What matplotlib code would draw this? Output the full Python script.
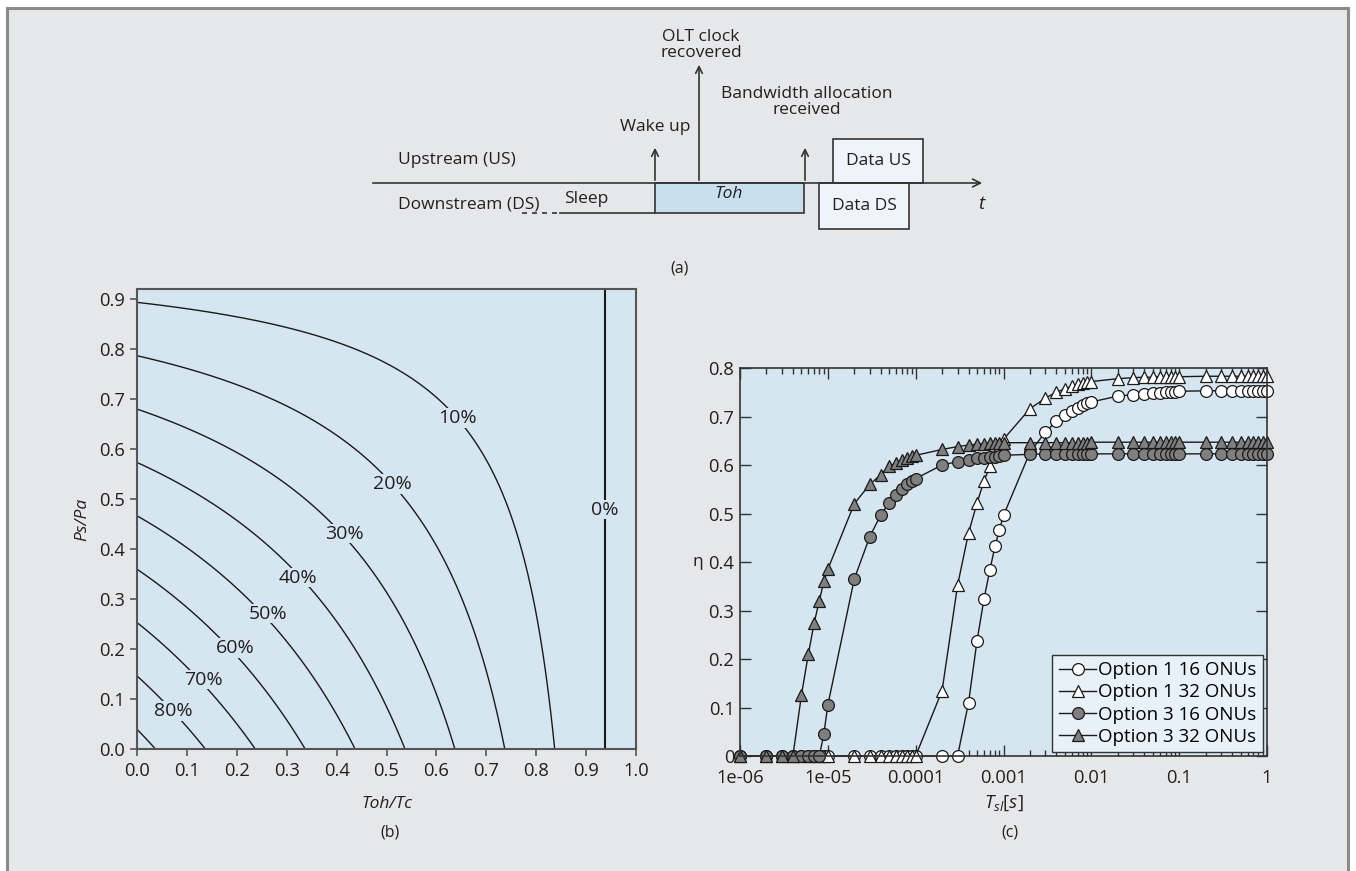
import numpy as np
import matplotlib
matplotlib.use("Agg")
import matplotlib.pyplot as plt
from matplotlib.patches import Rectangle
from matplotlib.ticker import FixedLocator, FixedFormatter, LogLocator, NullFormatter

plt.rcParams['font.family'] = ['Open Sans', 'DejaVu Sans']
plt.rcParams['mathtext.fontset'] = 'custom'
plt.rcParams['mathtext.it'] = 'Open Sans:italic'
plt.rcParams['mathtext.rm'] = 'Open Sans'

TXT = '#231f20'
BG = '#e6e7e8'
AXBG = '#d6e6f0'

# ---------------- data: panel (b) ----------------
saving_levels = [0, 10, 20, 30, 40, 50, 60, 70, 80, 90]
toh_limit = 0.937          # Toh/Tc where saving reaches 0 %
label_text = ['10%', '20%', '30%', '40%', '50%', '60%', '70%', '80%', '0%']
label_x = [0.642, 0.512, 0.415, 0.323, 0.262, 0.197, 0.133, 0.072, 0.938]
label_y = [0.662, 0.530, 0.431, 0.343, 0.271, 0.202, 0.139, 0.076, 0.479]
b_xticks = [0.0, 0.1, 0.2, 0.3, 0.4, 0.5, 0.6, 0.7, 0.8, 0.9, 1.0]
b_yticks = [0.0, 0.1, 0.2, 0.3, 0.4, 0.5, 0.6, 0.7, 0.8, 0.9]

# ---------------- data: panel (c) ----------------
T_sl = [1e-6, 2e-6, 3e-6, 4e-6, 5e-6, 6e-6, 7e-6, 8e-6, 9e-6,
        1e-5, 2e-5, 3e-5, 4e-5, 5e-5, 6e-5, 7e-5, 8e-5, 9e-5,
        1e-4, 2e-4, 3e-4, 4e-4, 5e-4, 6e-4, 7e-4, 8e-4, 9e-4,
        1e-3, 2e-3, 3e-3, 4e-3, 5e-3, 6e-3, 7e-3, 8e-3, 9e-3,
        1e-2, 2e-2, 3e-2, 4e-2, 5e-2, 6e-2, 7e-2, 8e-2, 9e-2,
        1e-1, 2e-1, 3e-1, 4e-1, 5e-1, 6e-1, 7e-1, 8e-1, 9e-1,
        1.0]
opt1_16 = [0, 0, 0, 0, 0, 0, 0, 0, 0,
           0, 0, 0, 0, 0, 0, 0, 0, 0,
           0, 0, 0, 0.110, 0.238, 0.324, 0.384, 0.432, 0.467,
           0.496, 0.626, 0.668, 0.690, 0.703, 0.711, 0.718, 0.723, 0.727,
           0.730, 0.742, 0.745, 0.747, 0.748, 0.749, 0.750, 0.750, 0.751,
           0.752, 0.753, 0.753, 0.753, 0.753, 0.753, 0.753, 0.753, 0.753,
           0.753]
opt1_32 = [0, 0, 0, 0, 0, 0, 0, 0, 0,
           0, 0, 0, 0, 0, 0, 0, 0, 0,
           0, 0.135, 0.352, 0.460, 0.522, 0.567, 0.598, 0.620, 0.637,
           0.653, 0.716, 0.738, 0.750, 0.757, 0.762, 0.766, 0.769, 0.771,
           0.772, 0.778, 0.780, 0.781, 0.781, 0.782, 0.782, 0.782, 0.782,
           0.782, 0.783, 0.783, 0.783, 0.783, 0.783, 0.783, 0.783, 0.783,
           0.783]
opt3_16 = [0, 0, 0, 0, 0, 0, 0, 0, 0.045,
           0.105, 0.365, 0.452, 0.497, 0.522, 0.538, 0.550, 0.560, 0.567,
           0.572, 0.600, 0.607, 0.611, 0.614, 0.615, 0.616, 0.617, 0.618,
           0.620, 0.622, 0.623, 0.623, 0.623, 0.623, 0.623, 0.623, 0.623,
           0.623, 0.623, 0.623, 0.623, 0.623, 0.623, 0.623, 0.623, 0.623,
           0.623, 0.623, 0.623, 0.623, 0.623, 0.623, 0.623, 0.623, 0.623,
           0.623]
opt3_32 = [0, 0, 0, 0, 0.125, 0.210, 0.275, 0.320, 0.360,
           0.385, 0.520, 0.560, 0.580, 0.597, 0.605, 0.611, 0.615, 0.618,
           0.620, 0.632, 0.638, 0.641, 0.643, 0.644, 0.645, 0.645, 0.646,
           0.646, 0.646, 0.646, 0.646, 0.646, 0.646, 0.646, 0.646, 0.646,
           0.647, 0.647, 0.647, 0.647, 0.647, 0.647, 0.647, 0.647, 0.647,
           0.647, 0.647, 0.647, 0.647, 0.647, 0.647, 0.647, 0.647, 0.647,
           0.647]
series_names = ['Option 1 16 ONUs', 'Option 1 32 ONUs', 'Option 3 16 ONUs', 'Option 3 32 ONUs']
c_xticks = [1e-6, 1e-5, 1e-4, 1e-3, 1e-2, 1e-1, 1.0]
c_xticklabels = ['1e-06', '1e-05', '0.0001', '0.001', '0.01', '0.1', '1']
c_yticks = [0, 0.1, 0.2, 0.3, 0.4, 0.5, 0.6, 0.7, 0.8]
c_yticklabels = ['0', '0.1', '0.2', '0.3', '0.4', '0.5', '0.6', '0.7', '0.8']

W, H = 1356, 871
fig = plt.figure(figsize=(W / 100, H / 100), dpi=100, facecolor='white')

# full-figure pixel axes for the background and diagram (a)
axp = fig.add_axes([0, 0, 1, 1])
axp.set_xlim(0, W)
axp.set_ylim(H, 0)
axp.axis('off')
axp.add_patch(Rectangle((7, 8), 1341, 900, facecolor=BG, edgecolor='#8a8a8a', lw=2.2))

FS = 12.5
TK = 13.2
lc = '#333333'
# time axis
axp.annotate('', xy=(985, 183), xytext=(370, 183),
             arrowprops=dict(arrowstyle='->', color=lc, lw=1.2, mutation_scale=14))
axp.text(398, 160, 'Upstream (US)', fontsize=FS, color=TXT, va='center', ha='left')
axp.text(398, 204, 'Downstream (DS)', fontsize=FS, color=TXT, va='center', ha='left')
axp.plot([522, 560], [213, 213], color=lc, lw=1.2, ls=(0, (3, 3)))
axp.plot([560, 655], [213, 213], color=lc, lw=1.2)
axp.text(564, 199, 'Sleep', fontsize=FS, color=TXT, va='center', ha='left')
axp.add_patch(Rectangle((655, 183), 149, 30, facecolor='#c8dfee', edgecolor=lc, lw=1.2))
axp.text(729, 194, 'Toh', fontsize=FS, color=TXT, va='center', ha='center', style='italic')
axp.add_patch(Rectangle((833, 139), 90, 44, facecolor='#eef4fa', edgecolor=lc, lw=1.2))
axp.text(878, 161, 'Data US', fontsize=FS, color=TXT, va='center', ha='center')
axp.add_patch(Rectangle((819, 183), 90, 46, facecolor='#eef4fa', edgecolor=lc, lw=1.2))
axp.text(864, 206, 'Data DS', fontsize=FS, color=TXT, va='center', ha='center')
axp.text(981, 204, 't', fontsize=FS + 1, color=TXT, va='center', ha='center', style='italic')
for xa, ytop in [(655, 145), (699, 62), (805, 145)]:
    axp.annotate('', xy=(xa, ytop), xytext=(xa, 183),
                 arrowprops=dict(arrowstyle='->', color=lc, lw=1.2, mutation_scale=12))
axp.text(655, 127, 'Wake up', fontsize=FS, color=TXT, va='center', ha='center')
axp.text(701, 45, 'OLT clock\nrecovered', fontsize=FS, color=TXT, va='center', ha='center',
         linespacing=1.0)
axp.text(807, 102, 'Bandwidth allocation\nreceived', fontsize=FS, color=TXT, va='center',
         ha='center', linespacing=1.05)
axp.text(680, 268, '(a)', fontsize=FS - 1, color=TXT, va='center', ha='center')
axp.text(390, 832, '(b)', fontsize=FS - 1, color=TXT, va='center', ha='center')
axp.text(1010, 832, '(c)', fontsize=FS - 1, color=TXT, va='center', ha='center')

# ---------------- panel (b) ----------------
bl, br, bt, bb = 137, 636, 289, 749
axb = fig.add_axes([bl / W, (H - bb) / H, (br - bl) / W, (bb - bt) / H])
axb.set_facecolor(AXBG)
gx = np.linspace(0, 1, 601)
gy = np.linspace(0, 0.92, 601)
GX, GY = np.meshgrid(gx, gy)
GZ = (toh_limit - GX) * (1 - GY) * 100
axb.contour(GX, GY, GZ, levels=saving_levels, colors='#1a1a1a',
            linewidths=[1.5] + [1.0] * (len(saving_levels) - 1))
for t, xx, yy in zip(label_text, label_x, label_y):
    axb.text(xx, yy, t, fontsize=14, color=TXT, ha='center', va='center',
             bbox=dict(boxstyle='square,pad=0.05', facecolor=AXBG, edgecolor='none'))
axb.set_xlim(0, 1)
axb.set_ylim(0, 0.92)
axb.set_xticks(b_xticks)
axb.set_yticks(b_yticks)
axb.set_xticklabels(['%.1f' % v for v in b_xticks])
axb.set_yticklabels(['%.1f' % v for v in b_yticks])
axb.tick_params(direction='out', length=5, width=1.2, colors='#555555', labelcolor=TXT,
                labelsize=TK, pad=4)
for s in axb.spines.values():
    s.set_color('#555555')
    s.set_linewidth(1.5)
axb.set_xlabel('Toh/Tc', fontsize=FS, color=TXT, style='italic', labelpad=12)
axb.set_ylabel('Ps/Pa', fontsize=FS, color=TXT, style='italic', labelpad=6)

# ---------------- panel (c) ----------------
cl, cr, ct, cb = 740, 1267, 368, 756
axc = fig.add_axes([cl / W, (H - cb) / H, (cr - cl) / W, (cb - ct) / H])
axc.set_facecolor(AXBG)
axc.set_xscale('log')
grey = '#7f7f7f'
styles = [dict(marker='o', mfc='white'), dict(marker='^', mfc='white'),
          dict(marker='o', mfc=grey), dict(marker='^', mfc=grey)]
for vals, name, st in zip([opt1_16, opt1_32, opt3_16, opt3_32], series_names, styles):
    axc.plot(T_sl, vals, color='#1a1a1a', lw=1.0, mec='#1a1a1a', mew=0.9, ms=8.5,
             label=name, clip_on=False, **st)
axc.set_xlim(1e-6, 1)
axc.set_ylim(0, 0.8)
axc.xaxis.set_major_locator(FixedLocator(c_xticks))
axc.xaxis.set_major_formatter(FixedFormatter(c_xticklabels))
axc.xaxis.set_minor_locator(LogLocator(base=10, subs=np.arange(2, 10)))
axc.xaxis.set_minor_formatter(NullFormatter())
axc.yaxis.set_major_locator(FixedLocator(c_yticks))
axc.yaxis.set_major_formatter(FixedFormatter(c_yticklabels))
axc.tick_params(which='both', direction='in', top=True, right=True, colors='#333333',
                labelcolor=TXT, labelsize=TK, width=1.0)
axc.tick_params(which='major', length=8)
axc.tick_params(axis='x', which='major', pad=9)
axc.tick_params(axis='y', which='major', pad=4)
axc.tick_params(which='minor', length=4)
for s in axc.spines.values():
    s.set_color('#333333')
    s.set_linewidth(1.2)
axc.set_xlabel(r'$T_{sl}[s]$', fontsize=FS + 1, color=TXT, labelpad=5)
axc.set_ylabel('η', fontsize=FS, color=TXT, rotation=0, labelpad=8, va='center')
leg = axc.legend(loc='lower right', fontsize=13.5, frameon=True, fancybox=False,
                 borderpad=0.35, labelspacing=0.22, handlelength=2.0, handletextpad=0.1,
                 borderaxespad=0.2)
leg.get_frame().set_edgecolor('#333333')
leg.get_frame().set_facecolor('#e8f1f8')
leg.get_frame().set_alpha(1)
leg.get_frame().set_linewidth(1.0)

fig.savefig('out.png', dpi=100, facecolor='white')
